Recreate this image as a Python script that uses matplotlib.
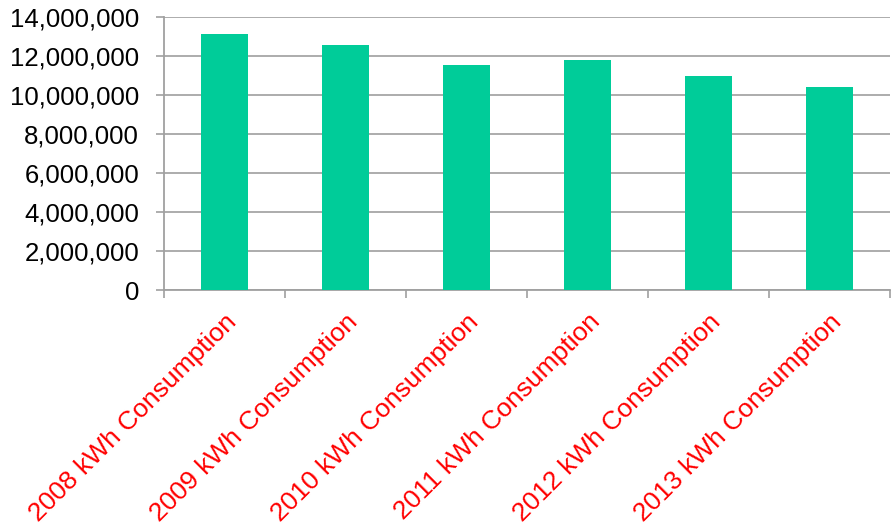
import matplotlib
matplotlib.use("Agg")
import matplotlib.pyplot as plt
from matplotlib.ticker import FuncFormatter, MultipleLocator

categories = ["2008 kWh Consumption", "2009 kWh Consumption", "2010 kWh Consumption",
              "2011 kWh Consumption", "2012 kWh Consumption", "2013 kWh Consumption"]
values = [13150000, 12580000, 11520000, 11780000, 10990000, 10390000]

plt.rcParams['font.family'] = ['Liberation Sans', 'DejaVu Sans']

fig = plt.figure(figsize=(8.93, 5.26), dpi=100)
ax = fig.add_axes([164/893, 1-290/526, (890-164)/893, (290-17)/526])

x = list(range(len(categories)))
ax.bar(x, values, width=0.39, color="#00CC99", zorder=3)

ax.set_xlim(-0.5, len(categories)-0.5)
ax.set_ylim(0, 14000000)
ax.yaxis.set_major_locator(MultipleLocator(2000000))
ax.yaxis.set_major_formatter(FuncFormatter(lambda v, p: f"{int(v):,}"))
ax.yaxis.grid(True, color="#A6A6A6", linewidth=1.3, zorder=0)
ax.set_axisbelow(True)

ax.set_xticks([i - 0.5 for i in range(len(categories)+1)], minor=False)
ax.set_xticklabels([])
ax.set_xticks(x, minor=True)
ax.set_xticklabels(categories, minor=True, rotation=45, ha='right',
                   rotation_mode='anchor', color='red', fontsize=19)
ax.tick_params(axis='x', which='minor', length=0, pad=14)
ax.tick_params(axis='x', which='major', length=6, color="#A0A0A0", width=1.2)
ax.tick_params(axis='y', length=6, color="#A0A0A0", width=1.2, labelsize=18.5, pad=12)

for s in ['top', 'right']:
    ax.spines[s].set_visible(False)
for s in ['left', 'bottom']:
    ax.spines[s].set_color("#A0A0A0")
    ax.spines[s].set_linewidth(1.3)

fig.savefig("out.png", dpi=100)
